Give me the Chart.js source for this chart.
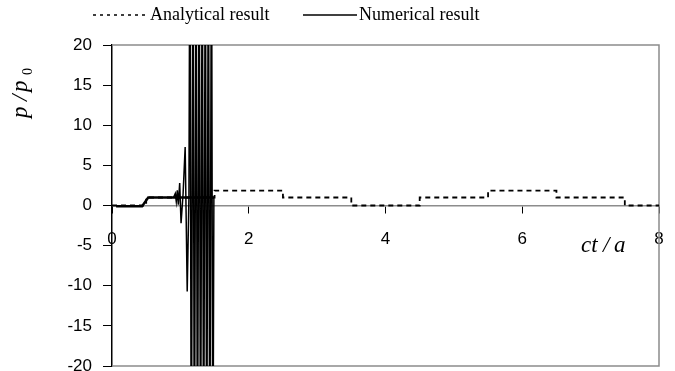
<!DOCTYPE html>
<html>
<head>
<meta charset="utf-8">
<script src="https://cdn.jsdelivr.net/npm/chart.js@4/dist/chart.umd.min.js"></script>
<style>
  html, body { margin: 0; padding: 0; background: #fff; }
  #wrap { width: 675px; height: 371px; }
</style>
</head>
<body>
<div id="wrap"><canvas id="myChart"></canvas></div>
<script>
// analytical step solution (value holds from x until the next x)
var analyticalX = [0, 0.5, 1.5, 2.5, 3.5, 4.5, 5.5, 6.5, 7.5, 8];
var analyticalY = [0, 1, 1.85, 1, 0, 1, 1.85, 1, 0, 0];

// numerical result, smooth part
var numericalX = [0.06, 0.44, 0.53, 1.49];
var numericalY = [-0.1, -0.1, 1, 1];

// numerical result, unstable oscillations (off-scale peaks estimated)
var spikeX = [0.9, 0.925, 0.94, 0.955, 0.97, 0.99, 1.01, 1.04, 1.07, 1.1, 1.125,
              1.14, 1.16, 1.185, 1.205, 1.23, 1.25, 1.275, 1.295, 1.32, 1.34,
              1.365, 1.385, 1.41, 1.43, 1.455, 1.475, 1.49];
var spikeY = [1, 1.5, 0.5, 1.9, 0.1, 2.8, -2.2, 1.5, 7.3, -10.7, 1,
              40, -40, 40, -40, 40, -40, 40, -40, 40, -40,
              40, -40, 40, -40, 40, -40, 1];

var xTicks = [0, 2, 4, 6, 8];
var yTicks = [-20, -15, -10, -5, 0, 5, 10, 15, 20];

var seriesLabels = ["Analytical result", "Numerical result"];

function toPoints(xs, ys) {
    return xs.map(function (x, i) { return { x: x, y: ys[i] }; });
}

var frameAndText = {
    id: "frameAndText",
    beforeDatasetsDraw: function (chart) {
        var ctx = chart.ctx;
        var a = chart.chartArea;
        ctx.save();
        ctx.strokeStyle = "#8c8c8c";
        ctx.lineWidth = 1.5;
        ctx.beginPath();
        ctx.moveTo(a.left, a.top);
        ctx.lineTo(a.right, a.top);
        ctx.lineTo(a.right, a.bottom);
        ctx.lineTo(a.left, a.bottom);
        ctx.stroke();
        ctx.restore();
    },
    afterDraw: function (chart) {
        var ctx = chart.ctx;
        ctx.save();
        ctx.fillStyle = "#000";
        ctx.strokeStyle = "#000";

        // legend
        ctx.lineWidth = 1.5;
        ctx.setLineDash([3, 4]);
        ctx.beginPath();
        ctx.moveTo(93, 15);
        ctx.lineTo(148, 15);
        ctx.stroke();
        ctx.setLineDash([]);
        ctx.beginPath();
        ctx.moveTo(303, 15);
        ctx.lineTo(357, 15);
        ctx.stroke();
        ctx.font = "18px 'Liberation Serif'";
        ctx.textBaseline = "middle";
        ctx.fillText(seriesLabels[0], 150, 15);
        ctx.fillText(seriesLabels[1], 359, 15);

        // x title
        ctx.textBaseline = "alphabetic";
        ctx.font = "italic 23px 'Liberation Serif'";
        ctx.fillText("ct", 581, 252);
        ctx.fillText("/", 603, 252);
        ctx.fillText("a", 614, 252);

        // y title
        ctx.translate(27, 118);
        ctx.rotate(-Math.PI / 2);
        ctx.fillText("p", 0, 0);
        ctx.fillText("/", 17, 0);
        ctx.fillText("p", 26, 0);
        ctx.font = "14px 'Liberation Serif'";
        ctx.fillText("0", 43, 5);
        ctx.restore();
    }
};

new Chart(document.getElementById("myChart").getContext("2d"), {
    type: "line",
    data: {
        datasets: [
            {
                label: seriesLabels[1],
                data: toPoints(numericalX, numericalY),
                borderColor: "#000",
                borderWidth: 2.4,
                pointRadius: 0
            },
            {
                label: seriesLabels[1],
                data: toPoints(spikeX, spikeY),
                borderColor: "#000",
                borderWidth: 1.5,
                pointRadius: 0
            },
            {
                label: seriesLabels[0],
                data: toPoints(analyticalX, analyticalY),
                borderColor: "#000",
                borderWidth: 1.8,
                borderDash: [5, 4],
                stepped: "before",
                pointRadius: 0
            }
        ]
    },
    options: {
        responsive: true,
        maintainAspectRatio: false,
        animation: false,
        layout: { padding: { top: 45, right: 16, bottom: 5, left: 0 } },
        plugins: {
            legend: { display: false },
            tooltip: { enabled: false }
        },
        scales: {
            x: {
                type: "linear",
                position: { y: 0 },
                min: 0,
                max: 8,
                afterBuildTicks: function (scale) {
                    scale.ticks = xTicks.map(function (v) { return { value: v }; });
                },
                afterFit: function (scale) {
                    scale.height = 0;
                    scale.paddingLeft = 0;
                    scale.paddingRight = 0;
                },
                ticks: {
                    color: "#000",
                    padding: 17,
                    font: { family: "'Liberation Sans'", size: 17 }
                },
                grid: {
                    drawOnChartArea: false,
                    color: "#000",
                    tickLength: 7
                },
                border: { color: "#8c8c8c", width: 1.5 }
            },
            y: {
                min: -20,
                max: 20,
                afterBuildTicks: function (scale) {
                    scale.ticks = yTicks.map(function (v) { return { value: v }; });
                },
                afterFit: function (scale) {
                    scale.width = 112;
                    scale.paddingTop = 0;
                    scale.paddingBottom = 0;
                },
                ticks: {
                    color: "#000",
                    padding: 11,
                    font: { family: "'Liberation Sans'", size: 17 }
                },
                grid: {
                    drawOnChartArea: false,
                    color: "#000",
                    tickLength: 9
                },
                border: { color: "#000", width: 1.5 }
            }
        }
    },
    plugins: [frameAndText]
});
</script>
</body>
</html>
